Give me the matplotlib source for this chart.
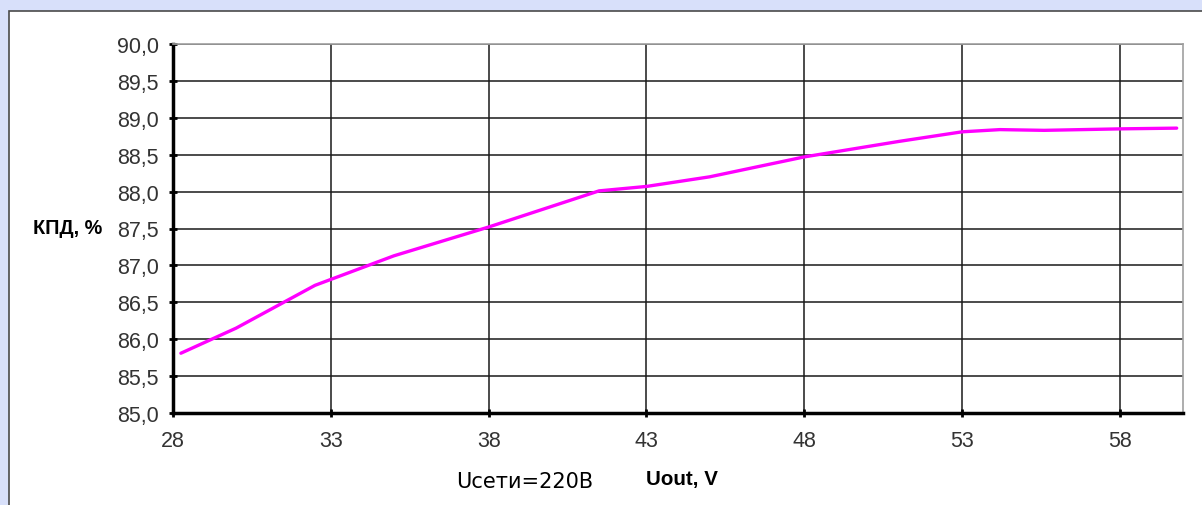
import matplotlib
matplotlib.use("Agg")
import matplotlib.pyplot as plt
from matplotlib.patches import Rectangle
from matplotlib.ticker import FuncFormatter

# data
u_out = [28.25, 30.0, 32.5, 35.0, 38.0, 41.5, 43.0, 45.0, 48.0, 51.0, 53.0, 54.2, 55.6, 58.0, 59.8]
kpd = [85.81, 86.15, 86.73, 87.13, 87.52, 88.01, 88.07, 88.20, 88.47, 88.68, 88.81, 88.84, 88.83, 88.85, 88.86]

x_ticks = [28, 33, 38, 43, 48, 53, 58]
y_ticks = [85.0, 85.5, 86.0, 86.5, 87.0, 87.5, 88.0, 88.5, 89.0, 89.5, 90.0]

W, H = 1202, 506
fig = plt.figure(figsize=(W / 100, H / 100), dpi=100)
fig.patch.set_facecolor("#d8e0fa")

# white inner panel
fig.patches.append(Rectangle((9 / W, -0.05), 1.0, 1 - 12 / H + 0.05,
                             transform=fig.transFigure, facecolor="white",
                             edgecolor="#4a4a4a", linewidth=1.2, zorder=-1))

ax = fig.add_axes([173 / W, 1 - 414 / H, (1183 - 173) / W, (414 - 45) / H])
ax.set_zorder(1)
ax.set_facecolor("white")
ax.plot(u_out, kpd, color="#ff00ff", linewidth=2.4, zorder=3,
        solid_capstyle="round", solid_joinstyle="round")

ax.set_xlim(28, 60)
ax.set_ylim(85, 90)
ax.set_xticks(x_ticks)
ax.set_yticks(y_ticks)
ax.yaxis.set_major_formatter(FuncFormatter(lambda v, p: f"{v:.1f}".replace(".", ",")))
ax.grid(True, color="#1a1a1a", linewidth=1.1)
ax.set_axisbelow(True)

for side in ["left", "bottom"]:
    ax.spines[side].set_linewidth(2.5)
    ax.spines[side].set_color("black")
for side in ["top", "right"]:
    ax.spines[side].set_linewidth(1.2)
    ax.spines[side].set_color("#a0a0a0")

ax.tick_params(direction="inout", length=6, width=2, color="black",
               labelsize=15.5, labelcolor="#333333")
ax.tick_params(axis="x", pad=9)
ax.tick_params(axis="y", pad=7)
for lbl in ax.get_xticklabels() + ax.get_yticklabels():
    lbl.set_fontfamily("Liberation Sans")

fig.text(33 / W, 1 - 229 / H, "КПД, %", fontsize=14.3, fontweight="bold",
         family="Liberation Sans", va="center", ha="left", color="black")
fig.text(682 / W, 1 - 480 / H, "Uout, V", fontsize=14.8, fontweight="bold",
         family="Liberation Sans", va="center", ha="center", color="black")
fig.text(525 / W, 1 - 482 / H, "Uсети=220В", fontsize=15,
         family="DejaVu Sans", va="center", ha="center", color="black")

fig.savefig("out.png", dpi=100, facecolor=fig.get_facecolor())
